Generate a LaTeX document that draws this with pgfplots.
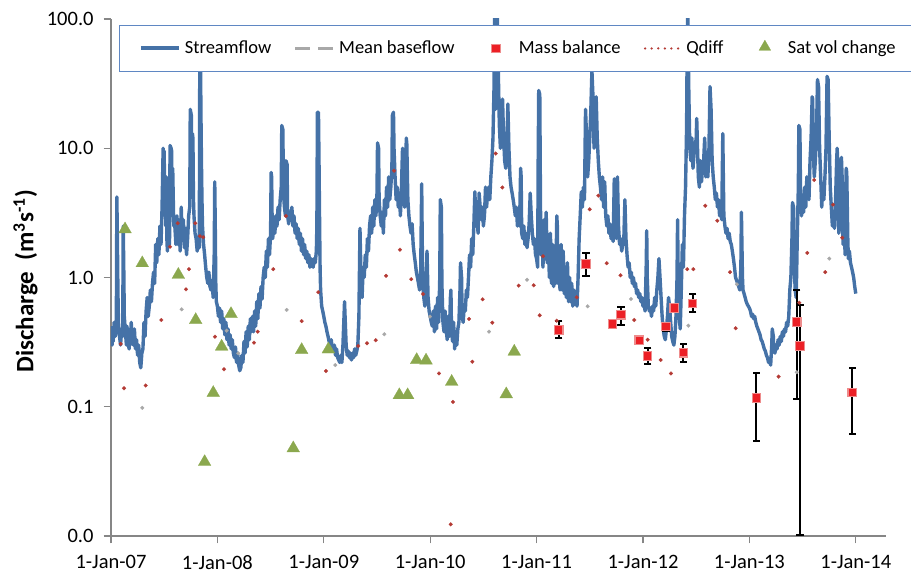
\documentclass[border=0pt]{standalone}
\usepackage{fontspec}
\setmainfont{Carlito}
\usepackage{pgfplots}
\pgfplotsset{compat=1.18}
\definecolor{streamblue}{RGB}{69,114,167}
\definecolor{basegray}{RGB}{168,168,168}
\definecolor{qred}{RGB}{180,58,52}
\definecolor{mbfill}{RGB}{236,32,38}
\definecolor{mbdraw}{RGB}{238,140,140}
\definecolor{satgreen}{RGB}{139,168,78}
\definecolor{axgray}{RGB}{134,134,134}
\definecolor{legblue}{RGB}{95,135,195}
\begin{document}
\begin{tikzpicture}
\begin{axis}[
  name=ax,
  scale only axis, width=387.5bp, height=258.5bp,
  xmin=0, xmax=7.284,
  ymode=log, ymin=0.01, ymax=100,
  axis lines*=left,
  axis line style={draw=axgray, line width=0.6bp},
  tick style={draw=axgray, line width=0.6bp},
  tick align=outside, major tick length=3.7bp,
  yminorticks=false, xminorticks=false,
  xtick={0,1,2,3,4,5,6,7},
  xticklabels={1-Jan-07,1-Jan-08,1-Jan-09,1-Jan-10,1-Jan-11,1-Jan-12,1-Jan-13,1-Jan-14},
  ytick={0.01,0.1,1,10,100},
  yticklabels={0.0,0.1,1.0,10.0,100.0},
  tick label style={font=\fontsize{10.25bp}{12bp}\selectfont, text=black},
  xticklabel style={yshift=-2.3bp},
  yticklabel style={xshift=-1.5bp},
  ylabel={\textbf{Discharge~~(m\textsuperscript{3}s\textsuperscript{-1})}},
  ylabel style={at={(axis description cs:-0.1,0.493)}, anchor=base, font=\fontsize{12.5bp}{14bp}\selectfont},
  legend columns=5,
  legend cell align=left,
  legend style={
    at={(axis description cs:0.0107,0.9884)}, anchor=north west,
    draw=legblue, line width=0.6bp, fill=white,
    font=\fontsize{9.25bp}{11bp}\selectfont,
    inner xsep=9.5bp, inner ysep=5.5bp,
    /tikz/every even column/.append style={column sep=9.2bp},
  },
]
% legend images
\addlegendimage{legend image code/.code={\draw[streamblue, line width=2bp] (0bp,0bp) -- (19bp,0bp);}}
\addlegendentry{Streamflow}
\addlegendimage{legend image code/.code={\path[draw=none,fill=none] (0bp,0bp) -- (19bp,0bp); \draw[basegray, line width=1.8bp, dash pattern=on 7.5bp off 4bp] (0bp,0bp) -- (19bp,0bp);}}
\addlegendentry{Mean baseflow}
\addlegendimage{legend image code/.code={\path[draw=none,fill=none] (0bp,0bp) -- (19bp,0bp); \path plot[mark=square*, mark size=2.1bp, mark options={draw=mbdraw, fill=mbfill, line width=0.6bp}] coordinates {(9.5bp,0bp)};}}
\addlegendentry{Mass balance}
\addlegendimage{legend image code/.code={\path[draw=none,fill=none] (0bp,0bp) -- (19bp,0bp); \draw[qred, line width=1.25bp, line cap=round, dash pattern=on 0bp off 3.3bp] (1bp,0bp) -- (19bp,0bp);}}
\addlegendentry{Qdiff}
\addlegendimage{legend image code/.code={\path[draw=none,fill=none] (0bp,0bp) -- (19bp,0bp); \path plot[mark=triangle*, mark size=3.4bp, mark options={draw=satgreen, fill=satgreen, line width=0.1bp}] coordinates {(9.5bp,0.8bp)};}}
\addlegendentry{Sat vol change}

% Streamflow (x = years since 1-Jan-07)
\addplot[streamblue, line width=1.7bp, line join=round, forget plot] coordinates {
(0.000,0.42)(0.005,0.35)(0.010,0.30)(0.015,0.38)(0.020,0.32)(0.030,0.45)(0.040,0.35)(0.050,0.40)(0.055,4.2)(0.060,2.0)(0.065,0.8)(0.070,0.45)(0.080,0.35)(0.090,0.30)(0.100,0.40)(0.110,0.35)(0.115,2.5)(0.120,1.2)(0.125,0.5)(0.135,0.38)(0.145,0.30)(0.150,0.42)(0.160,0.32)(0.170,0.28)(0.175,0.38)(0.180,0.30)(0.190,0.45)(0.200,0.33)(0.210,0.30)(0.220,0.40)(0.230,0.28)(0.240,0.33)(0.250,0.25)(0.260,0.30)(0.270,0.22)(0.280,0.20)(0.290,0.26)(0.300,0.28)(0.310,0.45)(0.320,0.35)(0.330,0.55)(0.340,0.70)(0.350,0.50)(0.360,0.60)(0.370,0.80)(0.380,0.65)(0.390,0.90)(0.400,1.1)(0.410,0.9)(0.420,1.8)(0.430,1.3)(0.440,2.0)(0.450,1.5)(0.460,2.5)(0.470,1.8)(0.480,3.5)(0.490,10.0)(0.495,9.0)(0.500,9.5)(0.505,3.0)(0.510,5.0)(0.515,2.5)(0.520,6.0)(0.525,2.0)(0.530,1.6)(0.540,2.2)(0.550,1.8)(0.555,10.5)(0.565,10.0)(0.570,9.5)(0.575,3.0)(0.580,7.0)(0.590,2.5)
(0.600,2.5)(0.610,1.8)(0.620,3.0)(0.630,1.8)(0.640,2.5)(0.650,1.6)(0.660,3.5)(0.670,2.0)(0.680,2.8)(0.690,1.7)(0.700,2.4)(0.710,1.5)(0.720,2.0)(0.730,3.0)(0.740,3.5)(0.745,20)(0.755,18)(0.760,5.0)(0.765,13)(0.770,12)(0.775,4.0)(0.780,3.0)(0.790,2.2)(0.800,2.0)(0.810,1.6)(0.820,2.0)(0.830,1.7)(0.835,80)(0.840,70)(0.845,20)(0.850,8)(0.855,4)(0.860,2.5)(0.870,1.8)(0.880,1.5)(0.890,1.2)(0.900,1.0)(0.910,0.9)(0.920,1.1)(0.930,0.85)(0.940,0.8)(0.950,0.95)(0.960,0.7)(0.970,1.5)(0.975,5.5)(0.980,2.5)(0.985,0.9)(0.990,0.65)(1.000,0.6)
(1.010,0.5)(1.020,0.58)(1.030,0.45)(1.040,0.55)(1.050,0.40)(1.060,0.48)(1.070,0.36)(1.080,0.45)(1.090,0.33)(1.100,0.40)(1.110,0.30)(1.120,0.36)(1.130,0.28)(1.140,0.33)(1.150,0.26)(1.160,0.24)(1.170,0.29)(1.180,0.22)(1.190,0.26)(1.200,0.21)(1.210,0.19)(1.220,0.20)(1.230,0.25)(1.240,0.22)(1.250,0.32)(1.260,0.26)(1.270,0.38)(1.280,0.29)(1.290,0.42)(1.300,0.33)(1.310,0.48)(1.320,0.38)(1.330,0.50)(1.340,0.38)(1.350,0.55)(1.360,0.42)(1.370,0.65)(1.380,0.48)(1.390,0.75)(1.400,0.58)(1.410,0.85)(1.420,0.68)(1.430,1.0)(1.440,1.2)(1.450,1.0)(1.460,1.6)(1.470,1.2)(1.480,2.0)(1.490,1.5)(1.500,2.2)(1.505,6.5)(1.510,6.0)(1.515,2.5)(1.520,2.0)(1.530,2.8)(1.540,2.2)(1.550,3.0)(1.560,2.5)(1.570,3.5)(1.580,2.8)(1.590,4.0)(1.600,5.0)(1.605,15)(1.615,14)(1.620,6)(1.625,4)(1.630,3.5)(1.640,3.0)(1.645,8)(1.655,7.5)(1.660,3.0)(1.670,2.6)(1.680,3.2)(1.690,2.8)(1.700,3.5)(1.710,2.5)(1.720,3.0)(1.730,2.2)(1.740,2.6)(1.750,2.0)(1.760,2.4)(1.770,1.8)(1.780,2.2)(1.790,1.6)(1.800,2.0)(1.810,1.5)(1.820,1.8)(1.830,1.4)(1.840,1.6)(1.850,1.3)(1.860,1.5)(1.870,1.2)(1.880,1.4)(1.890,1.3)(1.900,1.2)(1.910,1.4)(1.920,1.3)(1.930,1.6)(1.935,2.5)(1.940,19)(1.950,19)(1.955,8)(1.960,3)(1.965,1.2)(1.970,0.8)(1.980,0.6)(1.990,0.55)(2.000,0.5)
(2.010,0.45)(2.020,0.42)(2.030,0.38)(2.040,0.35)(2.050,0.32)(2.060,0.30)(2.070,0.33)(2.080,0.28)(2.090,0.27)(2.100,0.30)(2.110,0.25)(2.120,0.28)(2.130,0.24)(2.140,0.23)(2.150,0.22)(2.160,0.25)(2.170,0.22)(2.180,0.30)(2.190,0.50)(2.195,0.65)(2.200,0.50)(2.210,0.30)(2.220,0.25)(2.230,0.27)(2.240,0.24)(2.250,0.26)(2.260,0.23)(2.270,0.26)(2.280,0.24)(2.290,0.28)(2.300,0.25)(2.310,0.27)(2.320,0.30)(2.330,0.50)(2.340,2.4)(2.350,1.0)(2.360,0.7)(2.370,1.2)(2.380,1.0)(2.390,1.5)(2.400,1.2)(2.410,2.0)(2.420,1.6)(2.430,2.5)(2.440,3.0)(2.450,2.2)(2.460,3.5)(2.470,2.5)(2.480,4.0)(2.490,3.0)(2.500,4.5)(2.505,11)(2.515,10)(2.520,4)(2.530,3.0)(2.540,2.5)(2.550,3.2)(2.560,2.2)(2.570,4.0)(2.580,3.0)(2.590,5.0)(2.600,3.5)(2.610,6.0)(2.620,4.0)(2.630,5.0)(2.640,7.0)(2.645,18)(2.655,19)(2.660,10)(2.670,6)(2.680,4.0)(2.690,5.0)(2.700,3.5)(2.710,4.5)(2.720,3.0)(2.730,5.0)(2.740,10)(2.745,9)(2.750,4)(2.760,3.5)(2.770,5)(2.775,12)(2.780,11)(2.790,4)(2.800,3.0)(2.810,2.5)(2.820,2.2)(2.830,2.6)(2.840,1.8)(2.850,1.5)(2.860,1.3)(2.870,1.1)(2.880,1.0)(2.890,0.9)(2.900,0.8)(2.910,1.0)(2.920,5.3)(2.925,2.0)(2.930,0.9)(2.940,0.7)(2.950,0.6)(2.960,0.8)(2.970,1.6)(2.980,0.7)(2.990,0.55)(3.000,0.5)
(3.010,0.45)(3.020,0.42)(3.030,0.55)(3.040,0.38)(3.050,0.6)(3.060,0.4)(3.070,0.7)(3.080,0.45)(3.090,1.0)(3.095,4.0)(3.105,3.5)(3.110,0.9)(3.120,0.45)(3.130,0.38)(3.140,0.55)(3.150,0.4)(3.160,0.33)(3.170,0.5)(3.180,0.35)(3.190,0.7)(3.195,0.8)(3.200,0.4)(3.210,0.32)(3.220,0.45)(3.230,0.28)(3.240,0.38)(3.250,0.3)(3.260,0.4)(3.270,0.45)(3.280,0.8)(3.285,1.3)(3.295,1.0)(3.300,0.5)(3.310,0.45)(3.320,0.6)(3.330,0.55)(3.340,0.8)(3.350,0.7)(3.360,1.0)(3.370,1.5)(3.380,1.2)(3.390,2.0)(3.400,1.5)(3.410,2.5)(3.420,4.6)(3.430,2.5)(3.440,3.0)(3.450,2.2)(3.460,4.5)(3.470,3.5)(3.480,2.8)(3.490,3.5)(3.500,2.5)(3.510,3.0)(3.520,5.0)(3.530,3.5)(3.540,4.5)(3.550,5.0)(3.560,4.0)(3.570,6.0)(3.580,8.0)(3.590,12)(3.600,30)(3.605,120)(3.610,60)(3.615,20)(3.625,50)(3.630,120)(3.640,40)(3.650,15)(3.660,10)(3.670,12)(3.680,24)(3.690,12)(3.700,8)(3.710,7)(3.720,10)(3.730,22)(3.740,10)(3.750,6)(3.760,5)(3.770,4.5)(3.780,4.0)(3.790,3.5)(3.800,3.0)(3.810,3.5)(3.820,2.5)(3.830,3.0)(3.840,2.5)(3.850,7.0)(3.855,6)(3.860,2.2)(3.870,2.0)(3.880,2.5)(3.890,1.8)(3.900,2.2)(3.910,1.7)(3.920,2.0)(3.930,2.6)(3.940,4.5)(3.950,3.0)(3.960,2.2)(3.970,1.8)(3.980,2.0)(3.990,1.5)(4.000,1.4)
(4.010,1.2)(4.015,8)(4.020,28)(4.030,26)(4.035,6)(4.040,1.5)(4.050,2.5)(4.060,1.2)(4.070,2.8)(4.080,1.4)(4.090,3.2)(4.100,1.3)(4.110,2.0)(4.120,1.0)(4.130,2.2)(4.140,0.9)(4.150,1.8)(4.160,0.85)(4.170,1.4)(4.180,0.9)(4.190,3.0)(4.195,2.5)(4.200,0.9)(4.210,1.5)(4.220,0.8)(4.230,1.8)(4.240,0.8)(4.250,1.6)(4.260,0.75)(4.270,1.2)(4.280,0.7)(4.290,1.3)(4.300,0.65)(4.310,1.0)(4.320,0.65)(4.330,0.9)(4.340,0.6)(4.350,0.8)(4.360,0.62)(4.370,0.7)(4.380,0.6)(4.390,1.0)(4.400,2.0)(4.410,3.0)(4.420,4.6)(4.430,3.5)(4.440,5.0)(4.450,4.0)(4.460,20)(4.470,12)(4.480,6)(4.490,8)(4.500,12)(4.510,20)(4.520,40)(4.530,25)(4.540,10)(4.550,15)(4.560,25)(4.570,12)(4.580,8)(4.590,6)(4.600,5)(4.610,4)(4.620,6)(4.630,3.5)(4.640,5.5)(4.650,3.0)(4.660,2.5)(4.670,3.0)(4.680,2.2)(4.690,2.6)(4.700,2.0)(4.710,2.3)(4.720,1.9)(4.730,5.8)(4.740,3.0)(4.750,2.0)(4.760,6.0)(4.770,2.5)(4.780,1.8)(4.790,2.0)(4.800,1.6)(4.810,1.8)(4.820,2.0)(4.830,4.0)(4.840,2.0)(4.850,1.5)(4.860,1.2)(4.870,1.3)(4.880,1.0)(4.890,1.1)(4.900,0.9)(4.910,1.0)(4.920,0.85)(4.930,0.9)(4.940,0.75)(4.950,0.8)(4.960,0.7)(4.970,0.75)(4.980,0.65)(4.990,0.7)(5.000,0.6)
(5.010,0.62)(5.020,0.55)(5.030,1.2)(5.035,2.3)(5.040,1.0)(5.050,0.6)(5.060,0.55)(5.070,0.58)(5.080,0.5)(5.090,0.6)(5.100,0.55)(5.110,0.7)(5.120,0.6)(5.130,0.8)(5.140,1.0)(5.150,1.4)(5.160,1.0)(5.170,0.7)(5.180,0.5)(5.190,0.4)(5.200,0.35)(5.210,0.33)(5.220,0.4)(5.230,0.5)(5.240,0.7)(5.250,0.6)(5.260,0.45)(5.270,0.35)(5.280,0.32)(5.290,0.3)(5.300,0.35)(5.310,0.5)(5.320,1.0)(5.325,2.8)(5.330,1.2)(5.340,0.5)(5.350,0.4)(5.360,0.8)(5.370,1.8)(5.380,1.2)(5.390,3.0)(5.400,5)(5.410,15)(5.415,60)(5.420,120)(5.430,30)(5.440,10)(5.450,8)(5.460,12)(5.470,7)(5.480,9)(5.490,10)(5.500,12)(5.505,17)(5.510,12)(5.520,6)(5.530,5)(5.540,8)(5.550,5.5)(5.560,7)(5.570,8)(5.580,12)(5.590,6)(5.600,9)(5.610,6)(5.620,10)(5.630,30)(5.640,20)(5.650,8)(5.660,6)(5.670,5)(5.680,4)(5.690,4.5)(5.700,3.5)(5.710,4.0)(5.720,3.0)(5.730,3.5)(5.740,2.8)(5.750,13)(5.760,3.0)(5.770,2.5)(5.780,2.2)(5.790,2.4)(5.800,2.0)(5.810,2.2)(5.820,1.9)(5.830,1.8)(5.840,1.6)(5.850,1.4)(5.860,1.2)(5.870,1.0)(5.880,0.95)(5.890,0.9)(5.900,0.85)(5.910,0.8)(5.920,1.2)(5.925,3.2)(5.935,1.0)(5.940,0.8)(5.950,0.75)(5.960,0.7)(5.970,0.65)(5.980,0.62)(5.990,0.6)(6.000,0.58)
(6.010,0.55)(6.020,0.5)(6.030,0.52)(6.040,0.48)(6.050,0.5)(6.060,0.45)(6.070,0.42)(6.080,0.4)(6.090,0.38)(6.100,0.36)(6.110,0.33)(6.120,0.32)(6.130,0.3)(6.140,0.28)(6.150,0.27)(6.160,0.25)(6.170,0.24)(6.180,0.22)(6.190,0.23)(6.200,0.21)(6.210,0.3)(6.215,0.4)(6.225,0.35)(6.230,0.27)(6.240,0.26)(6.250,0.3)(6.260,0.28)(6.270,0.33)(6.280,0.3)(6.290,0.35)(6.300,0.32)(6.310,0.38)(6.320,0.35)(6.330,0.4)(6.340,0.38)(6.350,0.45)(6.360,0.42)(6.370,0.5)(6.380,0.8)(6.390,1.0)(6.400,2.0)(6.405,3.8)(6.415,3.5)(6.420,1.5)(6.430,0.8)(6.440,0.7)(6.450,2.0)(6.460,5)(6.465,15)(6.475,14)(6.480,5)(6.490,3)(6.500,4)(6.510,3.2)(6.520,5)(6.530,3.5)(6.540,6)(6.550,5)(6.560,4)(6.570,8)(6.580,12)(6.590,25)(6.595,24)(6.600,10)(6.610,6)(6.620,8)(6.630,12)(6.640,34)(6.650,30)(6.660,10)(6.670,6)(6.680,3.5)(6.690,5)(6.700,4)(6.710,6)(6.720,10)(6.730,36)(6.740,34)(6.750,12)(6.760,5)(6.770,3.5)(6.780,2.5)(6.790,3.0)(6.800,2.4)(6.810,4)(6.820,8)(6.825,10)(6.835,6)(6.840,2.2)(6.850,2.5)(6.860,3.5)(6.865,8.5)(6.875,5)(6.880,1.8)(6.890,2.5)(6.900,1.5)(6.910,7)(6.915,6.5)(6.925,2.0)(6.930,1.4)(6.940,1.6)(6.950,1.3)(6.960,1.2)(6.970,1.1)(6.980,1.0)(6.990,0.85)(7.000,0.75)
};

% Mean baseflow
\addplot[only marks, basegray, mark=*, mark size=0.95bp, mark options={draw=basegray, fill=basegray, line width=0.1bp}, forget plot] coordinates {
(0.294,0.098)(0.664,0.567)(1.087,0.388)(1.196,0.259)(1.651,0.561)(2.108,0.21)(2.569,0.364)(2.998,0.498)(3.553,0.381)(3.910,0.96)(4.480,0.598)(4.887,0.682)(5.426,0.424)(5.883,0.885)(6.445,0.185)(6.751,1.40)
};

% Mass balance error bars (low, high per date)
\addplot[black, line width=1bp, mark=-, mark size=1.8bp, mark options={solid, draw=black, line width=1bp}, unbounded coords=jump, forget plot] coordinates {
(4.208,0.342)(4.208,0.463)(4.208,nan)
(4.464,1.03)(4.464,1.56)(4.464,nan)
(4.793,0.429)(4.793,0.594)(4.793,nan)
(5.044,0.213)(5.044,0.283)(5.044,nan)
(5.216,0.388)(5.216,0.447)(5.216,nan)
(5.379,0.221)(5.379,0.306)(5.379,nan)
(5.467,0.543)(5.467,0.741)(5.467,nan)
(6.065,0.0546)(6.065,0.183)(6.065,nan)
(6.445,0.115)(6.445,0.80)(6.445,nan)
(6.476,0.0101)(6.476,0.612)(6.476,nan)
(6.967,0.0618)(6.967,0.198)
};

% Mass balance
\addplot[only marks, mbfill, mark=square*, mark size=2.1bp, mark options={draw=mbdraw, fill=mbfill, line width=0.6bp}, forget plot] coordinates {
(4.208,0.393)(4.464,1.27)(4.715,0.437)(4.793,0.515)(4.965,0.327)(5.044,0.247)(5.216,0.419)(5.294,0.581)(5.379,0.261)(5.467,0.631)(6.065,0.117)(6.445,0.453)(6.476,0.295)(6.967,0.129)
};

% Qdiff
\addplot[only marks, qred, mark=*, mark size=0.95bp, mark options={draw=qred, fill=qred, line width=0.1bp}, forget plot] coordinates {
(0.091,0.306)(0.122,0.139)(0.326,0.146)(0.473,0.469)(0.555,1.73)(0.627,2.63)(0.705,0.81)(0.733,1.16)(0.792,2.63)(0.836,2.09)(0.867,2.05)(0.977,0.348)(1.062,0.195)(1.344,0.313)(1.379,0.381)(1.525,1.16)(1.645,2.99)(1.792,0.46)(1.948,0.77)(2.021,0.189)(2.324,0.295)(2.406,0.31)(2.488,0.327)(2.585,1.03)(2.660,6.7)(2.716,1.64)(2.822,0.97)(2.932,0.745)(3.083,0.181)(3.193,0.0123)(3.214,0.109)(3.365,0.478)(3.396,0.223)(3.493,0.678)(3.584,0.447)(3.616,9.1)(3.678,4.97)(3.832,0.865)(3.973,0.87)(4.029,0.51)(4.060,1.46)(4.189,0.463)(4.377,0.703)(4.499,3.37)(4.580,4.3)(4.659,1.29)(4.789,1.04)(4.918,0.469)(5.044,0.33)(5.166,0.23)(5.263,0.181)(5.416,1.16)(5.473,1.16)(5.585,3.59)(5.698,2.75)(5.818,1.10)(5.871,0.405)(6.275,0.171)(6.469,0.638)(6.544,1.55)(6.609,5.68)(6.713,1.10)(6.786,3.66)(6.873,2.03)
};

% Sat vol change
\addplot[only marks, satgreen, mark=triangle*, mark size=3.7bp, mark options={draw=satgreen, fill=satgreen, line width=0.1bp}, forget plot] coordinates {
(0.132,2.36)(0.294,1.29)(0.633,1.05)(0.796,0.469)(0.880,0.0374)(0.961,0.128)(1.040,0.292)(1.128,0.522)(1.713,0.0477)(1.792,0.275)(2.043,0.278)(2.710,0.123)(2.788,0.123)(2.873,0.23)(2.961,0.228)(3.202,0.156)(3.715,0.125)(3.790,0.267)
};
\end{axis}
\pgfresetboundingbox
\path[use as bounding box] ([xshift=-55.5bp,yshift=-18.5bp]ax.south west) rectangle ([xshift=12.5bp,yshift=9.5bp]ax.north east);
\end{tikzpicture}
\end{document}
